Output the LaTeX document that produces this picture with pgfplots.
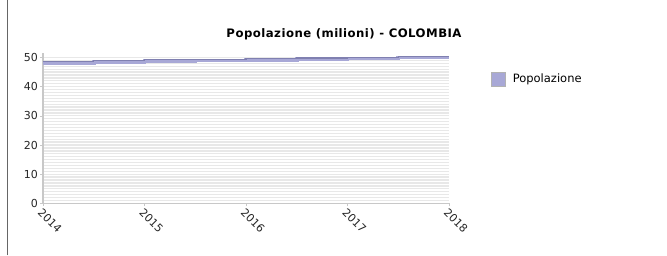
\documentclass[border=0pt]{standalone}
\usepackage{pgfplots}
\pgfplotsset{compat=1.18}
\usepackage{fontspec}
\setmainfont{DejaVu Sans}
\newfontfamily\titlefont[LetterSpace=4]{DejaVu Sans}
\definecolor{bandlight}{HTML}{A8A8D6}
\definecolor{banddark}{HTML}{8080B0}
\definecolor{stripe}{HTML}{E8E8E8}
\definecolor{axisgray}{HTML}{C8C8C8}
\begin{document}
\begin{tikzpicture}
\path (0pt,0pt) rectangle (667pt,255pt);
\draw[gray!80!black, line width=0.8pt] (7pt,0pt) -- (7pt,255pt);
\node[font=\titlefont\bfseries\fontsize{11.7}{13}\selectfont] at (344pt,221pt) {Popolazione (milioni) - COLOMBIA};
\begin{axis}[
  at={(43pt,52pt)}, anchor=south west,
  scale only axis, width=406pt, height=150pt,
  xmin=2014, xmax=2018, ymin=0, ymax=51.4,
  axis x line*=bottom, axis y line*=left,
  axis line style={axisgray, line width=1.5pt},
  xtick={2014,2015,2016,2017,2018},
  ytick={0,10,20,30,40,50},
  minor y tick num=9,
  minor tick length=0pt,
  major tick length=3pt,
  tick style={axisgray, line width=0.6pt},
  tick align=outside,
  ymajorgrids, yminorgrids,
  major grid style={stripe, line width=1.3pt},
  minor grid style={stripe, line width=1.3pt},
  xticklabel style={rotate=-45, anchor=north west, inner sep=1pt},
  yticklabel style={inner sep=2pt},
  ticklabel style={font=\fontsize{11}{13}\selectfont, text=black!85},
  /pgf/number format/assume math mode=true,
  /pgf/number format/1000 sep={},
  legend style={at={(1.103,0.827)}, anchor=west, draw=none, fill=none,
    font=\fontsize{11.5}{13}\selectfont, inner sep=0pt,
    nodes={inner sep=2pt}},
  legend cell align=left,
  clip=false,
]
\addplot[const plot, bandlight, line width=3.6pt, forget plot] coordinates {
 (2014,48.2) (2014.5,48.55) (2015,48.85) (2015.5,49.0) (2016,49.15)
 (2016.5,49.4) (2017,49.6) (2017.5,50.0) (2018,50.0)
};
\addplot[const plot, banddark, line width=1.3pt, yshift=1.2pt, forget plot] coordinates {
 (2014,48.2) (2014.5,48.55) (2015,48.85) (2015.5,49.0) (2016,49.15)
 (2016.5,49.4) (2017,49.6) (2017.5,50.0) (2018,50.0)
};
\addlegendimage{legend image code/.code={\draw[fill=bandlight, draw=gray!60, line width=0.8pt] (0pt,-7pt) rectangle (14pt,7pt);}}
\addlegendentry{\hspace{5pt}Popolazione}
\end{axis}
\end{tikzpicture}
\end{document}
